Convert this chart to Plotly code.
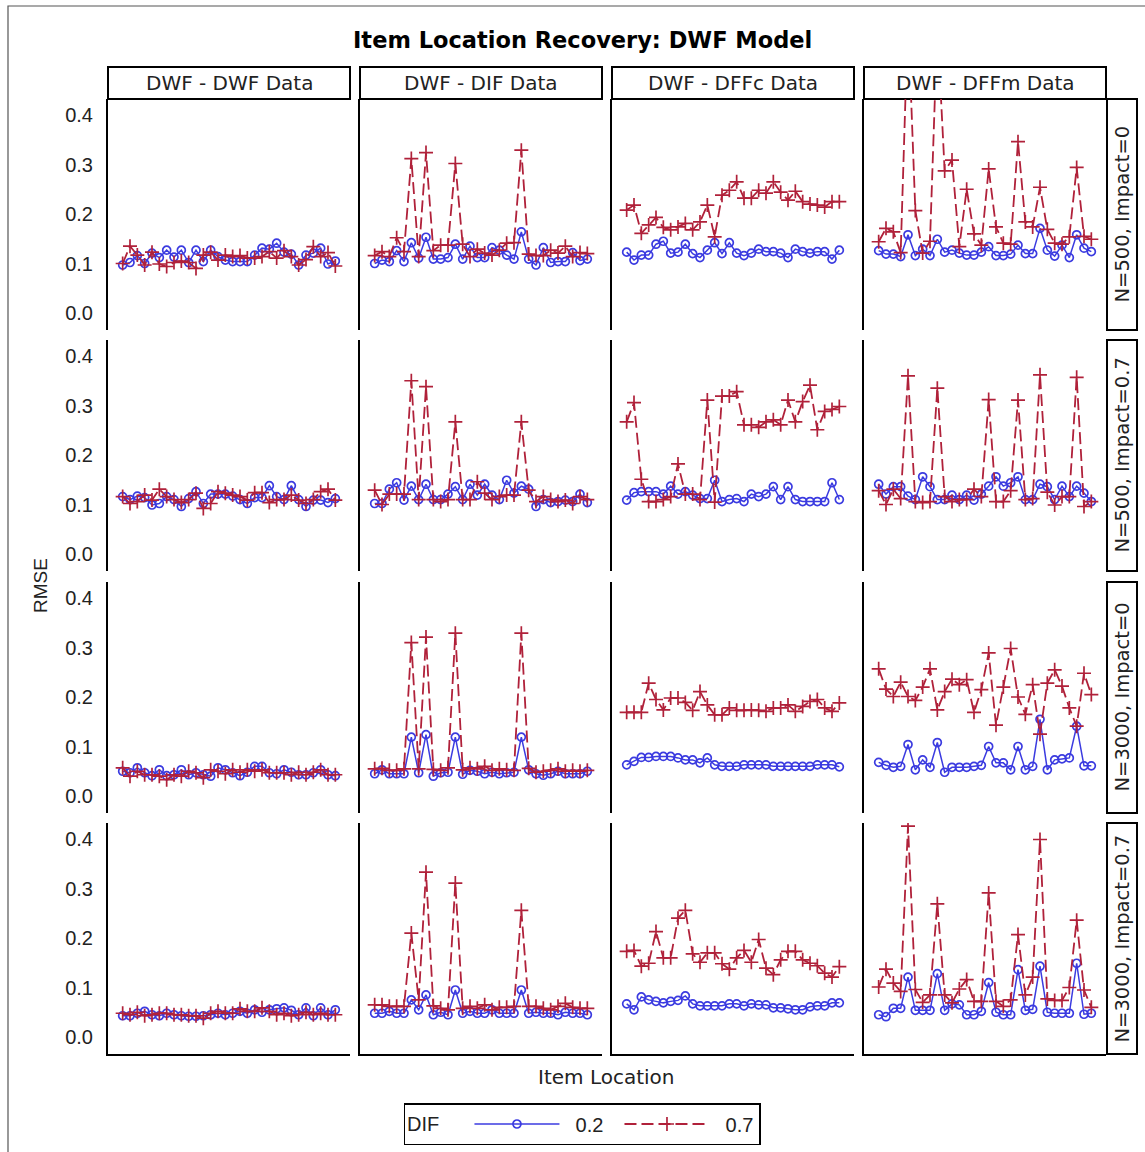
import plotly.graph_objects as go

# ---- categories and labels ----
items = list(range(1, 31))
col_labels = ["DWF - DWF Data", "DWF - DIF Data", "DWF - DFFc Data", "DWF - DFFm Data"]
row_labels = ["N=500, Impact=0", "N=500, Impact=0.7", "N=3000, Impact=0", "N=3000, Impact=0.7"]
dif_levels = ["0.2", "0.7"]
y_tick_vals = [0.0, 0.1, 0.2, 0.3, 0.4]
y_tick_text = ["0.0", "0.1", "0.2", "0.3", "0.4"]

# ---- RMSE of item location, N=500, Impact=0 ----
n500_i0_dwf_lo = [0.097, 0.102, 0.116, 0.100, 0.121, 0.112, 0.127, 0.113, 0.127, 0.102, 0.127, 0.104, 0.127, 0.114, 0.107,
                  0.104, 0.104, 0.104, 0.117, 0.131, 0.129, 0.141, 0.123, 0.119, 0.097, 0.117, 0.121, 0.131, 0.099, 0.105]
n500_i0_dwf_hi = [0.100, 0.135, 0.117, 0.097, 0.123, 0.099, 0.094, 0.102, 0.105, 0.102, 0.090, 0.117, 0.123, 0.107, 0.117,
                  0.114, 0.116, 0.111, 0.111, 0.114, 0.124, 0.111, 0.126, 0.114, 0.097, 0.108, 0.134, 0.114, 0.122, 0.095]
n500_i0_dif_lo = [0.100, 0.107, 0.104, 0.126, 0.104, 0.142, 0.111, 0.153, 0.109, 0.109, 0.112, 0.139, 0.109, 0.135, 0.112,
                  0.112, 0.132, 0.127, 0.117, 0.109, 0.164, 0.109, 0.097, 0.132, 0.102, 0.104, 0.104, 0.122, 0.106, 0.109]
n500_i0_dif_hi = [0.116, 0.124, 0.114, 0.152, 0.124, 0.312, 0.114, 0.324, 0.126, 0.137, 0.137, 0.302, 0.139, 0.114, 0.129,
                  0.121, 0.117, 0.127, 0.141, 0.142, 0.329, 0.119, 0.116, 0.116, 0.127, 0.121, 0.135, 0.114, 0.122, 0.120]
n500_i0_dffc_lo = [0.123, 0.107, 0.117, 0.117, 0.139, 0.145, 0.121, 0.123, 0.139, 0.120, 0.112, 0.127, 0.142, 0.120, 0.142,
                   0.121, 0.116, 0.121, 0.129, 0.124, 0.124, 0.121, 0.112, 0.129, 0.124, 0.121, 0.124, 0.124, 0.109, 0.127]
n500_i0_dffc_hi = [0.208, 0.218, 0.161, 0.178, 0.193, 0.173, 0.168, 0.174, 0.181, 0.168, 0.184, 0.218, 0.154, 0.238, 0.248,
                   0.265, 0.232, 0.232, 0.248, 0.242, 0.265, 0.244, 0.228, 0.246, 0.225, 0.220, 0.218, 0.214, 0.225, 0.225]
n500_i0_dffm_lo = [0.126, 0.119, 0.119, 0.114, 0.158, 0.116, 0.129, 0.116, 0.149, 0.123, 0.127, 0.121, 0.117, 0.117, 0.123,
                   0.134, 0.116, 0.116, 0.119, 0.137, 0.120, 0.120, 0.171, 0.127, 0.115, 0.137, 0.112, 0.158, 0.131, 0.124]
n500_i0_dffm_hi = [0.144, 0.171, 0.164, 0.122, 0.600, 0.207, 0.121, 0.145, 0.580, 0.287, 0.309, 0.134, 0.250, 0.160, 0.137,
                   0.291, 0.174, 0.141, 0.139, 0.346, 0.184, 0.174, 0.254, 0.169, 0.141, 0.139, 0.154, 0.294, 0.155, 0.149]

# ---- N=500, Impact=0.7 ----
n500_i7_dwf_lo = [0.116, 0.110, 0.117, 0.114, 0.099, 0.102, 0.116, 0.110, 0.096, 0.112, 0.126, 0.102, 0.121, 0.121, 0.121,
                  0.117, 0.110, 0.102, 0.114, 0.114, 0.138, 0.116, 0.110, 0.138, 0.110, 0.096, 0.109, 0.109, 0.104, 0.112]
n500_i7_dwf_hi = [0.116, 0.102, 0.106, 0.119, 0.109, 0.131, 0.116, 0.110, 0.104, 0.110, 0.123, 0.092, 0.102, 0.126, 0.123,
                  0.119, 0.116, 0.109, 0.124, 0.124, 0.104, 0.110, 0.110, 0.119, 0.109, 0.102, 0.110, 0.126, 0.131, 0.109]
n500_i7_dif_lo = [0.102, 0.102, 0.131, 0.144, 0.109, 0.137, 0.110, 0.141, 0.110, 0.110, 0.121, 0.136, 0.110, 0.141, 0.119,
                  0.141, 0.119, 0.110, 0.149, 0.123, 0.137, 0.131, 0.096, 0.110, 0.104, 0.106, 0.109, 0.106, 0.121, 0.104]
n500_i7_dif_hi = [0.129, 0.100, 0.121, 0.121, 0.121, 0.350, 0.110, 0.338, 0.110, 0.106, 0.110, 0.267, 0.110, 0.110, 0.146,
                  0.123, 0.110, 0.116, 0.119, 0.119, 0.267, 0.129, 0.106, 0.116, 0.110, 0.106, 0.109, 0.102, 0.116, 0.110]
n500_i7_dffc_lo = [0.109, 0.124, 0.126, 0.126, 0.126, 0.121, 0.137, 0.121, 0.126, 0.119, 0.112, 0.112, 0.149, 0.106, 0.110,
                   0.112, 0.106, 0.121, 0.116, 0.121, 0.136, 0.110, 0.136, 0.110, 0.106, 0.106, 0.106, 0.106, 0.144, 0.110]
n500_i7_dffc_hi = [0.267, 0.306, 0.151, 0.106, 0.106, 0.110, 0.116, 0.182, 0.121, 0.121, 0.110, 0.311, 0.105, 0.319, 0.319,
                   0.328, 0.261, 0.261, 0.256, 0.267, 0.271, 0.261, 0.311, 0.267, 0.308, 0.341, 0.251, 0.288, 0.292, 0.298]
n500_i7_dffm_lo = [0.141, 0.121, 0.136, 0.136, 0.117, 0.110, 0.156, 0.136, 0.110, 0.110, 0.119, 0.110, 0.119, 0.109, 0.121,
                   0.137, 0.156, 0.137, 0.144, 0.156, 0.110, 0.110, 0.141, 0.136, 0.110, 0.137, 0.116, 0.137, 0.123, 0.106]
n500_i7_dffm_hi = [0.128, 0.100, 0.131, 0.112, 0.360, 0.106, 0.104, 0.106, 0.335, 0.116, 0.106, 0.110, 0.110, 0.131, 0.116,
                   0.312, 0.106, 0.106, 0.128, 0.311, 0.110, 0.112, 0.362, 0.125, 0.099, 0.116, 0.116, 0.357, 0.096, 0.106]

# ---- N=3000, Impact=0 ----
n3000_i0_dwf_lo = [0.050, 0.047, 0.057, 0.047, 0.041, 0.053, 0.041, 0.043, 0.053, 0.043, 0.047, 0.043, 0.040, 0.057, 0.053,
                   0.047, 0.041, 0.048, 0.060, 0.060, 0.047, 0.045, 0.053, 0.048, 0.043, 0.043, 0.047, 0.053, 0.043, 0.041]
n3000_i0_dwf_hi = [0.057, 0.040, 0.050, 0.043, 0.043, 0.040, 0.033, 0.043, 0.040, 0.050, 0.047, 0.037, 0.053, 0.050, 0.045,
                   0.053, 0.048, 0.053, 0.050, 0.053, 0.047, 0.047, 0.047, 0.043, 0.048, 0.043, 0.048, 0.053, 0.043, 0.043]
n3000_i0_dif_lo = [0.045, 0.053, 0.045, 0.045, 0.045, 0.119, 0.047, 0.124, 0.040, 0.047, 0.048, 0.119, 0.044, 0.052, 0.050,
                   0.045, 0.048, 0.045, 0.047, 0.048, 0.119, 0.053, 0.045, 0.042, 0.045, 0.050, 0.045, 0.045, 0.045, 0.050]
n3000_i0_dif_hi = [0.055, 0.056, 0.052, 0.052, 0.055, 0.310, 0.055, 0.321, 0.054, 0.052, 0.057, 0.329, 0.053, 0.057, 0.055,
                   0.060, 0.052, 0.055, 0.053, 0.052, 0.329, 0.056, 0.048, 0.050, 0.052, 0.055, 0.050, 0.052, 0.050, 0.052]
n3000_i0_dffc_lo = [0.063, 0.070, 0.078, 0.078, 0.080, 0.080, 0.080, 0.077, 0.073, 0.073, 0.067, 0.077, 0.063, 0.060, 0.060,
                    0.060, 0.063, 0.063, 0.063, 0.063, 0.060, 0.060, 0.060, 0.060, 0.060, 0.060, 0.063, 0.063, 0.063, 0.059]
n3000_i0_dffc_hi = [0.169, 0.169, 0.169, 0.228, 0.195, 0.174, 0.198, 0.198, 0.189, 0.173, 0.211, 0.184, 0.164, 0.164, 0.178,
                    0.173, 0.173, 0.174, 0.173, 0.171, 0.178, 0.178, 0.184, 0.171, 0.181, 0.191, 0.195, 0.178, 0.171, 0.188]
n3000_i0_dffm_lo = [0.068, 0.062, 0.058, 0.060, 0.104, 0.053, 0.073, 0.058, 0.108, 0.048, 0.058, 0.058, 0.058, 0.060, 0.062,
                    0.100, 0.067, 0.067, 0.053, 0.100, 0.053, 0.060, 0.155, 0.053, 0.073, 0.075, 0.077, 0.141, 0.061, 0.061]
n3000_i0_dffm_hi = [0.257, 0.216, 0.201, 0.230, 0.201, 0.193, 0.220, 0.257, 0.174, 0.211, 0.236, 0.225, 0.235, 0.169, 0.215,
                    0.289, 0.143, 0.220, 0.298, 0.200, 0.165, 0.225, 0.125, 0.228, 0.255, 0.222, 0.178, 0.141, 0.248, 0.205]

# ---- N=3000, Impact=0.7 ----
n3000_i7_dwf_lo = [0.043, 0.043, 0.048, 0.052, 0.045, 0.043, 0.048, 0.045, 0.043, 0.042, 0.042, 0.043, 0.045, 0.048, 0.045,
                   0.048, 0.052, 0.048, 0.055, 0.050, 0.055, 0.057, 0.059, 0.054, 0.045, 0.059, 0.043, 0.059, 0.045, 0.055]
n3000_i7_dwf_hi = [0.048, 0.045, 0.050, 0.043, 0.045, 0.048, 0.048, 0.045, 0.045, 0.043, 0.043, 0.038, 0.048, 0.052, 0.048,
                   0.048, 0.057, 0.052, 0.052, 0.059, 0.052, 0.045, 0.048, 0.043, 0.045, 0.050, 0.045, 0.048, 0.045, 0.045]
n3000_i7_dif_lo = [0.048, 0.048, 0.052, 0.048, 0.048, 0.075, 0.055, 0.085, 0.045, 0.050, 0.045, 0.095, 0.048, 0.052, 0.048,
                   0.048, 0.055, 0.048, 0.048, 0.048, 0.095, 0.048, 0.050, 0.048, 0.048, 0.045, 0.050, 0.048, 0.048, 0.045]
n3000_i7_dif_hi = [0.065, 0.065, 0.062, 0.062, 0.062, 0.210, 0.075, 0.333, 0.063, 0.058, 0.055, 0.311, 0.058, 0.062, 0.058,
                   0.065, 0.055, 0.060, 0.060, 0.062, 0.256, 0.062, 0.062, 0.058, 0.055, 0.062, 0.068, 0.060, 0.058, 0.058]
n3000_i7_dffc_lo = [0.067, 0.055, 0.081, 0.075, 0.072, 0.069, 0.072, 0.074, 0.083, 0.067, 0.063, 0.063, 0.063, 0.063, 0.067,
                    0.067, 0.063, 0.067, 0.065, 0.065, 0.059, 0.059, 0.057, 0.055, 0.055, 0.061, 0.063, 0.063, 0.069, 0.069]
n3000_i7_dffc_hi = [0.173, 0.175, 0.143, 0.149, 0.213, 0.160, 0.160, 0.240, 0.256, 0.168, 0.151, 0.170, 0.170, 0.148, 0.137,
                    0.160, 0.175, 0.151, 0.197, 0.139, 0.126, 0.156, 0.173, 0.173, 0.156, 0.149, 0.144, 0.129, 0.121, 0.142]
n3000_i7_dffm_lo = [0.045, 0.041, 0.058, 0.058, 0.121, 0.054, 0.054, 0.054, 0.128, 0.054, 0.067, 0.065, 0.045, 0.045, 0.052,
                    0.110, 0.050, 0.045, 0.045, 0.136, 0.054, 0.056, 0.143, 0.050, 0.048, 0.048, 0.048, 0.149, 0.046, 0.048]
n3000_i7_dffm_hi = [0.101, 0.137, 0.109, 0.092, 0.426, 0.096, 0.070, 0.085, 0.269, 0.085, 0.069, 0.097, 0.116, 0.072, 0.072,
                    0.291, 0.072, 0.062, 0.075, 0.207, 0.085, 0.121, 0.399, 0.077, 0.074, 0.074, 0.100, 0.236, 0.095, 0.060]

# panel grid: rows = sample size / impact, columns = data-generating model
panels = [
    [(n500_i0_dwf_lo, n500_i0_dwf_hi), (n500_i0_dif_lo, n500_i0_dif_hi),
     (n500_i0_dffc_lo, n500_i0_dffc_hi), (n500_i0_dffm_lo, n500_i0_dffm_hi)],
    [(n500_i7_dwf_lo, n500_i7_dwf_hi), (n500_i7_dif_lo, n500_i7_dif_hi),
     (n500_i7_dffc_lo, n500_i7_dffc_hi), (n500_i7_dffm_lo, n500_i7_dffm_hi)],
    [(n3000_i0_dwf_lo, n3000_i0_dwf_hi), (n3000_i0_dif_lo, n3000_i0_dif_hi),
     (n3000_i0_dffc_lo, n3000_i0_dffc_hi), (n3000_i0_dffm_lo, n3000_i0_dffm_hi)],
    [(n3000_i7_dwf_lo, n3000_i7_dwf_hi), (n3000_i7_dif_lo, n3000_i7_dif_hi),
     (n3000_i7_dffc_lo, n3000_i7_dffc_hi), (n3000_i7_dffm_lo, n3000_i7_dffm_hi)],
]

# ---- styling ----
W, H = 1145, 1152
LABEL_FONT = "DejaVu Sans, Verdana, sans-serif"
TICK_FONT = "Liberation Sans, Arial, sans-serif"
TXT = "#222222"
BLUE = "#3b3be0"
RED = "#b0213a"
NBSP = "\u00a0"

col_left = [108, 360, 612, 864]
panel_w = 242
row_top = [99, 340, 582, 823]
panel_h = 231
header_top = 67
strip_left, strip_right = 1107, 1137

X_RANGE = [-1, 32]
Y_RANGE = [-0.0343, 0.4323]


def px(x):
    return x / W


def py(y):
    return 1 - y / H


fig = go.Figure()
layout = {}
shapes = []
annotations = []

for r in range(4):
    for c in range(4):
        k = r * 4 + c + 1
        xa = "xaxis" if k == 1 else f"xaxis{k}"
        ya = "yaxis" if k == 1 else f"yaxis{k}"
        xr = "x" if k == 1 else f"x{k}"
        yr = "y" if k == 1 else f"y{k}"
        layout[xa] = dict(
            domain=[px(col_left[c]), px(col_left[c] + panel_w)],
            range=X_RANGE, anchor=yr, showgrid=False, zeroline=False,
            showticklabels=False, ticks="",
            showline=(r == 3), linecolor="black", linewidth=2,
        )
        layout[ya] = dict(
            domain=[py(row_top[r] + panel_h), py(row_top[r])],
            range=Y_RANGE, anchor=xr, showgrid=False, zeroline=False,
            tickvals=y_tick_vals, ticktext=y_tick_text,
            showticklabels=(c == 0), ticks="", ticklabelstandoff=9,
            tickfont=dict(family=TICK_FONT, size=20, color=TXT),
            showline=True, linecolor="black", linewidth=2,
        )
        lo, hi = panels[r][c]
        first = (k == 1)
        fig.add_trace(go.Scatter(
            x=items, y=lo, xaxis=xr, yaxis=yr, mode="lines+markers",
            name=NBSP * 2 + dif_levels[0] + NBSP * 2, legendgroup="lo", showlegend=first,
            line=dict(color=BLUE, width=1.5),
            marker=dict(symbol="circle-open", size=8, color=BLUE,
                        line=dict(color=BLUE, width=1.7)),
            cliponaxis=True,
        ))
        fig.add_trace(go.Scatter(
            x=items, y=hi, xaxis=xr, yaxis=yr, mode="lines+markers",
            name=NBSP * 2 + dif_levels[1], legendgroup="hi", showlegend=first,
            line=dict(color=RED, width=1.8, dash="12px,5px"),
            marker=dict(symbol="cross-thin", size=10, color=RED,
                        line=dict(color=RED, width=1.7)),
            cliponaxis=True,
        ))

# column header strips
for c, lab in enumerate(col_labels):
    shapes.append(dict(type="rect", xref="paper", yref="paper",
                       x0=px(col_left[c]), x1=px(col_left[c] + panel_w),
                       y0=py(row_top[0]), y1=py(header_top),
                       line=dict(color="black", width=2), fillcolor="white", layer="below"))
    annotations.append(dict(text=lab, xref="paper", yref="paper",
                            x=px(col_left[c] + panel_w / 2), y=py((header_top + row_top[0]) / 2),
                            xanchor="center", yanchor="middle", showarrow=False,
                            font=dict(family=LABEL_FONT, size=20, color=TXT)))

# row strips on the right
for r, lab in enumerate(row_labels):
    shapes.append(dict(type="rect", xref="paper", yref="paper",
                       x0=px(strip_left), x1=px(strip_right),
                       y0=py(row_top[r] + panel_h), y1=py(row_top[r]),
                       line=dict(color="black", width=2), fillcolor="white", layer="below"))
    annotations.append(dict(text=lab, xref="paper", yref="paper",
                            x=px((strip_left + strip_right) / 2), y=py(row_top[r] + panel_h / 2),
                            xanchor="center", yanchor="middle", textangle=-90, showarrow=False,
                            font=dict(family=LABEL_FONT, size=19.5, color=TXT)))

# outer frame
shapes.append(dict(type="rect", xref="paper", yref="paper",
                   x0=px(8), x1=px(1170), y0=py(1175), y1=py(6),
                   line=dict(color="#555555", width=1.2), layer="below"))

# titles
annotations.append(dict(text="<b>Item Location Recovery: DWF Model</b>", xref="paper", yref="paper",
                        x=px(582), y=py(40), xanchor="center", yanchor="middle", showarrow=False,
                        font=dict(family=LABEL_FONT, size=22.5, color="black")))
annotations.append(dict(text="RMSE", xref="paper", yref="paper",
                        x=px(40), y=py(586), xanchor="center", yanchor="middle", textangle=-90,
                        showarrow=False, font=dict(family=TICK_FONT, size=19, color=TXT)))
annotations.append(dict(text="Item Location", xref="paper", yref="paper",
                        x=px(606), y=py(1077), xanchor="center", yanchor="middle",
                        showarrow=False, font=dict(family=LABEL_FONT, size=20, color=TXT)))

fig.update_layout(
    width=W, height=H, autosize=False,
    margin=dict(l=0, r=0, t=0, b=0),
    paper_bgcolor="white", plot_bgcolor="white",
    shapes=shapes, annotations=annotations,
    showlegend=True,
    legend=dict(orientation="h", x=px(582), xanchor="center", y=py(1103), yanchor="top",
                bordercolor="black", borderwidth=1.5, bgcolor="white",
                font=dict(family=TICK_FONT, size=20, color=TXT),
                title=dict(text="DIF" + NBSP * 4, side="left",
                           font=dict(family=TICK_FONT, size=20, color=TXT)),
                itemwidth=85, traceorder="normal"),
    **layout,
)

fig.write_html("out.html")
